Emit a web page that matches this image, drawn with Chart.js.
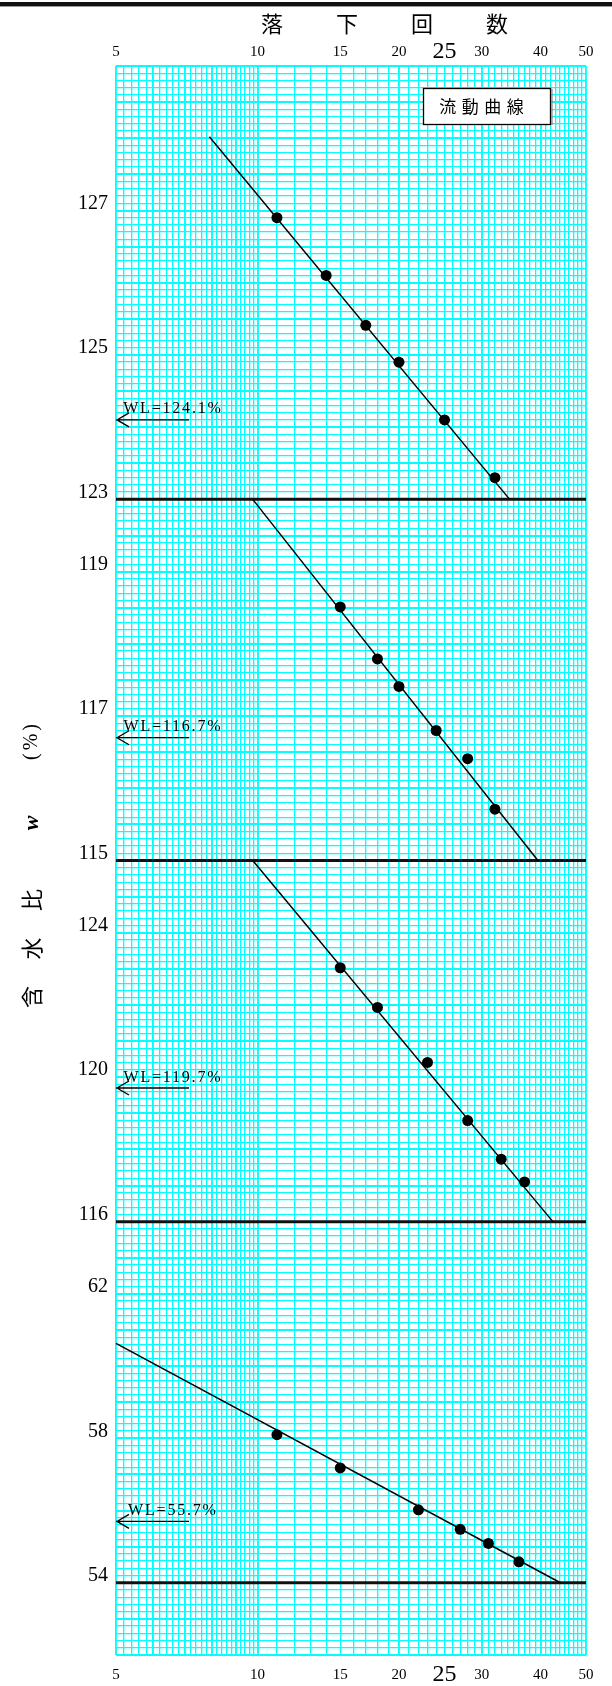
<!DOCTYPE html>
<html><head><meta charset="utf-8">
<script src="https://cdn.jsdelivr.net/npm/chart.js@4/dist/chart.umd.min.js"></script>
<style>html,body{margin:0;padding:0;background:#fff}canvas{display:block}</style>
</head><body>
<canvas id="c" width="612" height="1686"></canvas>
<script>
// ---------------- data ----------------
const xTickLabels = [5, 10, 15, 20, 25, 30, 40, 50];

const p1Drops = [11, 14, 17, 20, 25, 32];
const p1Water = [126.90, 126.10, 125.41, 124.90, 124.10, 123.30];
const p1LineDrops = [7.9, 34.4];
const p1LineWater = [128.02, 123.0];
const p1TickLabels = [123, 125, 127];
const p1WL = 124.1;

const p2Drops = [15, 18, 20, 24, 28, 32];
const p2Water = [118.51, 117.79, 117.41, 116.80, 116.41, 115.71];
const p2LineDrops = [9.77, 39.5];
const p2LineWater = [120.0, 115.0];
const p2TickLabels = [115, 117, 119];
const p2WL = 116.7;

const p3Drops = [15, 18, 23, 28, 33, 37];
const p3Water = [123.03, 121.93, 120.41, 118.80, 117.73, 117.10];
const p3LineDrops = [9.77, 42.5];
const p3LineWater = [126.0, 116.0];
const p3TickLabels = [116, 120, 124];
const p3WL = 119.7;

const p4Drops = [11, 15, 22, 27, 31, 36];
const p4Water = [58.10, 57.18, 56.02, 55.48, 55.09, 54.58];
const p4LineDrops = [5, 44.1];
const p4LineWater = [60.63, 54.0];
const p4TickLabels = [54, 58, 62];
const p4WL = 55.7;

const panelMin = [123, 115, 116, 52];
const panelMax = [129, 120, 126, 64];
const panelGridStep = [0.1, 0.1, 0.2, 0.2];
const baseLines = [123, 115, 116, 54];

// ---------------- build ----------------
const panels = [
  {id: 'p1', drops: p1Drops, water: p1Water, ld: p1LineDrops, lw: p1LineWater, labels: p1TickLabels, wl: p1WL},
  {id: 'p2', drops: p2Drops, water: p2Water, ld: p2LineDrops, lw: p2LineWater, labels: p2TickLabels, wl: p2WL},
  {id: 'p3', drops: p3Drops, water: p3Water, ld: p3LineDrops, lw: p3LineWater, labels: p3TickLabels, wl: p3WL},
  {id: 'p4', drops: p4Drops, water: p4Water, ld: p4LineDrops, lw: p4LineWater, labels: p4TickLabels, wl: p4WL}
];
const stackWeights = [6, 5, 5, 6];

function xGridValues() {
  const v = [];
  for (let k = 50; k < 100; k += 2) v.push(k / 10);
  for (let k = 10; k <= 50; k++) v.push(k);
  return v;
}
const xMajors = [5, 6, 7, 8, 9, 10, 20, 30, 40, 50];

const CYAN = '#00ffff';
const datasets = [];
panels.forEach((p, i) => {
  datasets.push({
    label: p.id + ' points', xAxisID: 'x', yAxisID: p.id, order: 0, clip: false,
    data: p.drops.map((d, k) => ({x: d, y: p.water[k]})),
    showLine: false, pointRadius: 5.5, pointBackgroundColor: '#000', pointBorderWidth: 0
  });
  datasets.push({
    label: p.id + ' flow curve', xAxisID: 'x', yAxisID: p.id, order: 1, clip: false,
    data: p.ld.map((d, k) => ({x: d, y: p.lw[k]})),
    showLine: true, borderColor: '#000', borderWidth: 1.5, pointRadius: 0
  });
  datasets.push({
    label: p.id + ' base', xAxisID: 'x', yAxisID: p.id, order: 2, clip: false,
    data: [{x: 5, y: baseLines[i]}, {x: 50, y: baseLines[i]}],
    showLine: true, borderColor: '#111', borderWidth: 3, pointRadius: 0
  });
});

function yAxis(i) {
  const p = panels[i];
  return {
    type: 'linear', position: 'left', stack: 'paper', stackWeight: stackWeights[i], weight: 4 - i,
    min: panelMin[i], max: panelMax[i], bounds: 'data',
    afterFit: s => { s.width = 116; },
    afterBuildTicks: s => {
      const n = Math.round((panelMax[i] - panelMin[i]) / panelGridStep[i]);
      const t = [];
      for (let k = 0; k <= n; k++) t.push({value: +(panelMin[i] + k * panelGridStep[i]).toFixed(2)});
      s.ticks = t;
    },
    ticks: {
      autoSkip: false, padding: 8, labelOffset: -7, color: '#000',
      font: {family: '"Liberation Serif", serif', size: 20},
      callback: v => p.labels.includes(v) ? String(v) : ''
    },
    grid: {
      drawTicks: false, color: CYAN,
      lineWidth: ctx => {
        const v = ctx.tick ? ctx.tick.value : 0;
        const m = panelGridStep[i] < 0.15 ? v * 2 : v;
        return Math.abs(m - Math.round(m)) < 1e-6 ? 1.9 : 1.3;
      }
    },
    border: {display: false}
  };
}

function xFont(ctx) {
  const v = ctx.tick ? ctx.tick.value : 0;
  return v === 25 ? {family: '"Liberation Serif", serif', size: 24, lineHeight: '18px'}
                  : {family: '"Liberation Serif", serif', size: 15, lineHeight: '18px'};
}

function spaced(ctx, text, cx, cy, spacing) {
  const chars = [...text];
  ctx.textAlign = 'left';
  if ('letterSpacing' in ctx) {
    ctx.letterSpacing = '0px';
    const w0 = ctx.measureText(text).width;
    const total = w0 + spacing * (chars.length - 1);
    ctx.letterSpacing = spacing + 'px';
    ctx.fillText(text, cx - total / 2, cy);
    ctx.letterSpacing = '0px';
  } else {
    const ws = chars.map(c => ctx.measureText(c).width);
    const total = ws.reduce((s, w) => s + w, 0) + spacing * (chars.length - 1);
    let x = cx - total / 2;
    chars.forEach((c, k) => { ctx.fillText(c, x, cy); x += ws[k] + spacing; });
  }
}

const CJK = '"Noto Sans CJK JP", "Noto Sans CJK SC", sans-serif';
const decor = {
  id: 'decor',
  afterDatasetsDraw(chart) {
    const {ctx, chartArea: a, scales} = chart;
    ctx.save();
    ctx.fillStyle = '#000';
    ctx.strokeStyle = '#000';
    // WL arrows + labels
    panels.forEach(p => {
      const y = scales[p.id].getPixelForValue(p.wl);
      const x0 = scales.x.getPixelForValue(5);
      ctx.lineWidth = 1.3;
      ctx.beginPath();
      ctx.moveTo(x0, y); ctx.lineTo(x0 + 73, y);
      ctx.moveTo(x0 + 13, y - 7); ctx.lineTo(x0 + 1, y); ctx.lineTo(x0 + 13, y + 7);
      ctx.stroke();
      ctx.font = '16px "Liberation Serif", serif';
      ctx.textBaseline = 'alphabetic';
      spaced(ctx, 'WL=' + p.wl.toFixed(1) + '%', x0 + 8 + 48, y - 6.5, 1.8);
    });
    // legend box
    const bx = a.right - 163, by = a.top + 22, bw = 127, bh = 36;
    ctx.fillStyle = '#fff';
    ctx.fillRect(bx, by, bw, bh);
    ctx.lineWidth = 1.3;
    ctx.strokeStyle = '#000';
    ctx.strokeRect(bx + 0.5, by + 0.5, bw, bh);
    ctx.strokeStyle = '#777';
    ctx.lineWidth = 1;
    ctx.beginPath(); ctx.moveTo(bx + bw + 2, by + 1); ctx.lineTo(bx + bw + 2, by + bh + 1); ctx.stroke();
    ctx.fillStyle = '#000';
    ctx.font = '17px ' + CJK;
    ctx.textBaseline = 'middle';
    spaced(ctx, '流動曲線', bx + 58.5, by + 18.5, 5.5);
    ctx.restore();
  },
  afterDraw(chart) {
    const {ctx} = chart;
    ctx.save();
    ctx.fillStyle = '#111';
    ctx.fillRect(0, 2, 612, 4);
    ctx.fillStyle = '#999';
    ctx.fillRect(0, 6, 612, 1);
    ctx.fillStyle = '#000';
    ctx.textBaseline = 'middle';
    ctx.font = '22px ' + CJK;
    spaced(ctx, '落下回数', 384.5, 24, 53);
    // y title (rotated)
    const piece = (text, cy, font, sp) => {
      ctx.save();
      ctx.translate(32, cy);
      ctx.rotate(-Math.PI / 2);
      ctx.font = font;
      spaced(ctx, text, 0, 0, sp);
      ctx.restore();
    };
    piece('含水比', 948.5, '22px ' + CJK, 26.5);
    piece('w', 823, 'italic bold 22px "Liberation Serif", serif', 0);
    piece('(%)', 742, '20px "Liberation Serif", serif', 3);
    ctx.restore();
  }
};

const scales = {
  x: {
    type: 'logarithmic', position: 'bottom', min: 5, max: 50, bounds: 'data',
    afterFit: s => { s.height = 31; },
    afterBuildTicks: s => { s.ticks = xGridValues().map(v => ({value: v})); },
    ticks: {
      autoSkip: false, maxRotation: 0, minRotation: 0, padding: 11, color: '#000', font: xFont,
      callback: v => xTickLabels.includes(v) ? String(v) : ''
    },
    grid: {
      drawTicks: false, color: CYAN,
      lineWidth: ctx => (ctx.tick && xMajors.includes(ctx.tick.value)) ? 1.9 : 1.3
    },
    border: {display: false}
  },
  x2: {
    type: 'logarithmic', position: 'top', min: 5, max: 50, bounds: 'data',
    afterFit: s => { s.height = 66; },
    afterBuildTicks: s => { s.ticks = xTickLabels.map(v => ({value: v})); },
    ticks: {
      autoSkip: false, maxRotation: 0, minRotation: 0, padding: 5, color: '#000', font: xFont,
      callback: v => String(v)
    },
    grid: {display: false, drawTicks: false},
    border: {display: false}
  }
};
panels.forEach((p, i) => { scales[p.id] = yAxis(i); });

new Chart(document.getElementById('c'), {
  type: 'scatter',
  data: {datasets},
  options: {
    responsive: false, animation: false, devicePixelRatio: 1, events: [],
    layout: {padding: {left: 0, right: 26, top: 0, bottom: 0}},
    plugins: {legend: {display: false}, tooltip: {enabled: false}},
    scales
  },
  plugins: [decor]
});
</script>
</body></html>
